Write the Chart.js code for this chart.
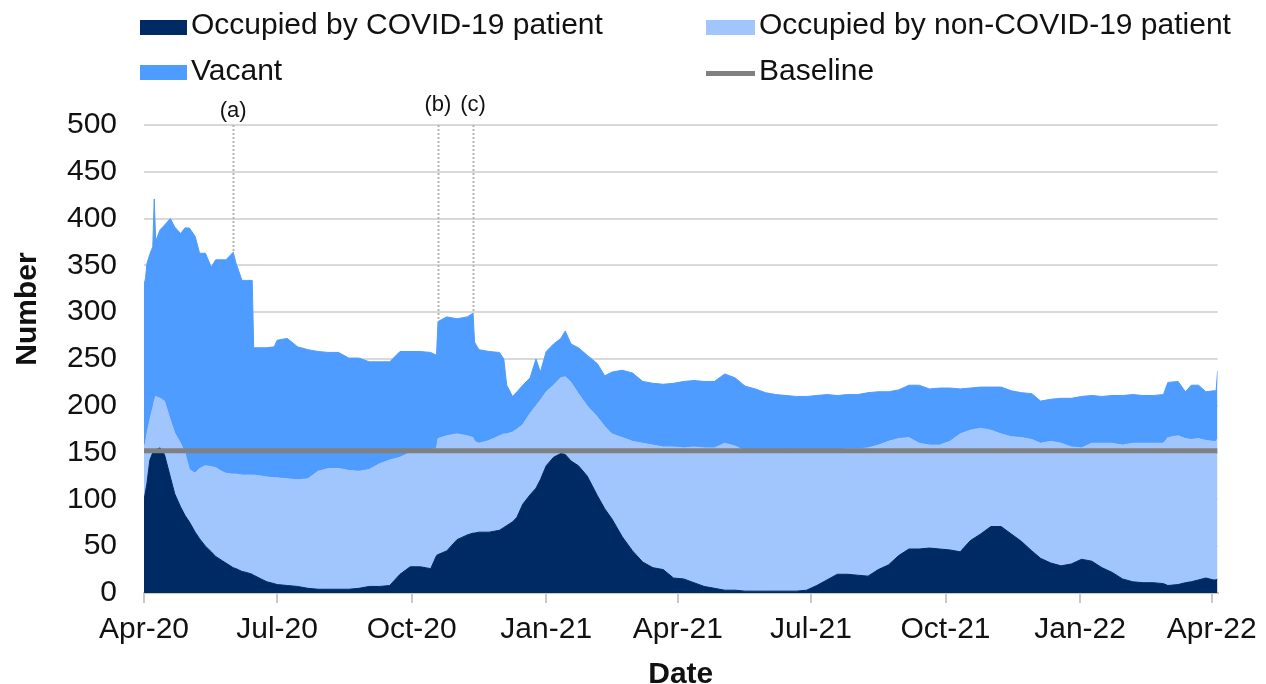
<!DOCTYPE html>
<html>
<head>
<meta charset="utf-8">
<script src="https://cdn.jsdelivr.net/npm/chart.js@4.4.1/dist/chart.umd.min.js"></script>
<style>
  html, body { margin: 0; padding: 0; background: #fff; }
  #chart { display: block; }
</style>
</head>
<body>
<canvas id="chart" width="1266" height="684"></canvas>
<script>
// Days since 1 April 2020
const days = [
  0, 1, 2, 4, 6, 7, 8, 11, 14, 18,
  21, 25, 28, 31, 35, 38, 42, 46, 49, 53,
  56, 61, 63, 67, 70, 74, 75, 80, 84, 89,
  91, 98, 105, 112, 119, 126, 133, 140, 147, 154,
  161, 168, 175, 182, 189, 196, 200, 201, 207, 214,
  221, 225, 226, 229, 236, 243, 246, 248, 252, 255,
  259, 264, 268, 271, 275, 280, 285, 288, 292, 297,
  303, 310, 315, 320, 327, 334, 341, 348, 355, 362,
  369, 376, 383, 390, 397, 404, 411, 418, 425, 432,
  439, 446, 453, 460, 467, 474, 481, 488, 495, 502,
  509, 516, 523, 530, 537, 544, 551, 558, 565, 572,
  579, 586, 593, 600, 607, 613, 620, 627, 634, 641,
  648, 655, 662, 669, 676, 683, 690, 697, 700, 707,
  712, 716, 721, 726, 731, 733, 734
];

const covidBeds = [
  99, 108, 117, 142, 150, 152, 153, 155, 148, 124,
  106, 92, 83, 76, 65, 58, 50, 44, 39, 35,
  32, 27, 26, 23, 22, 20, 19, 15, 12, 10,
  9, 8, 7, 5, 4, 4, 4, 4, 5, 7,
  7, 8, 20, 28, 28, 26, 40, 41, 45, 57,
  62, 64, 64, 65, 65, 67, 70, 72, 76, 81,
  95, 105, 112, 121, 136, 145, 149, 148, 141, 136,
  125, 104, 90, 79, 60, 45, 33, 27, 25, 16,
  15, 11, 7, 5, 3, 3, 2, 2, 2, 2,
  2, 2, 3, 8, 14, 20, 20, 19, 18, 25,
  30, 40, 47, 47, 48, 47, 46, 44, 56, 63,
  71, 71, 63, 55, 45, 37, 32, 29, 31, 36,
  34, 27, 22, 15, 12, 11, 11, 10, 8, 9,
  11, 12, 14, 16, 14, 14, 15
];

const nonCovidBeds = [
  57, 52, 53, 43, 48, 53, 57, 53, 57, 61,
  65, 68, 67, 56, 63, 75, 86, 91, 95, 95,
  96, 100, 101, 103, 104, 106, 107, 110, 112, 113,
  114, 114, 114, 117, 126, 129, 129, 127, 125, 125,
  131, 134, 125, 122, 124, 127, 115, 124, 123, 113,
  106, 102, 98, 95, 98, 101, 100, 98, 96, 94,
  85, 87, 88, 85, 79, 77, 81, 83, 84, 77,
  75, 84, 88, 91, 106, 117, 127, 131, 131, 140,
  140, 145, 148, 150, 157, 154, 150, 148, 148, 148,
  147, 147, 148, 144, 139, 133, 134, 135, 137, 133,
  132, 125, 119, 113, 110, 111, 116, 126, 118, 113,
  103, 99, 104, 111, 119, 123, 130, 131, 125, 119,
  126, 133, 138, 143, 148, 149, 149, 150, 158, 159,
  154, 152, 151, 147, 148, 148, 150
];

const vacantBeds = [
  173, 176, 182, 177, 172, 216, 166, 180, 188, 215,
  220, 224, 240, 258, 253, 230, 227, 213, 222, 226,
  228, 237, 225, 208, 208, 208, 136, 137, 138, 140,
  147, 150, 142, 138, 128, 124, 124, 120, 121, 115,
  109, 105, 113, 108, 106, 104, 99, 125, 127, 123,
  127, 133, 106, 100, 95, 89, 80, 52, 38, 40,
  42, 38, 50, 30, 43, 44, 42, 49, 41, 49,
  54, 57, 54, 66, 72, 73, 66, 66, 67, 68,
  71, 71, 71, 71, 74, 73, 69, 68, 64, 62,
  62, 61, 59, 59, 59, 58, 58, 58, 59, 57,
  53, 52, 56, 62, 60, 61, 57, 48, 45, 44,
  46, 50, 49, 48, 49, 45, 45, 48, 52, 55,
  51, 50, 51, 53, 52, 51, 51, 52, 59, 58,
  50, 58, 57, 52, 54, 54, 72
];

const baselineValue = 152;

const seriesNames = [
  'Occupied by COVID-19 patient',
  'Occupied by non-COVID-19 patient',
  'Vacant',
  'Baseline'
];

const tickDays = [0, 91, 183, 275, 365, 456, 548, 640, 730];
const tickLabels = ['Apr-20', 'Jul-20', 'Oct-20', 'Jan-21', 'Apr-21', 'Jul-21', 'Oct-21', 'Jan-22', 'Apr-22'];

const noteDays = [61, 201, 225];
const noteLabels = ['(a)', '(b)', '(c)'];

const FONT = '"Liberation Sans", Arial, sans-serif';
const NAVY = '#002a64';
const LIGHT = '#a0c6fd';
const MID = '#4e9cff';
const GREY = '#808080';

function points(values) {
    return days.map((d, i) => ({ x: d, y: values[i] }));
}

// Legend, axis titles and the (a)(b)(c) notes
const overlayPlugin = {
    id: 'overlay',
    afterDraw(chart) {
        const ctx = chart.ctx;
        const xs = chart.scales.x;
        const ys = chart.scales.y;
        ctx.save();

        // notes
        ctx.strokeStyle = '#b4b4b4';
        ctx.lineWidth = 2;
        ctx.setLineDash([2, 2]);
        noteDays.forEach((d, k) => {
            const i = days.indexOf(d);
            const total = covidBeds[i] + nonCovidBeds[i] + vacantBeds[i];
            const x = Math.round(xs.getPixelForValue(d)) + 0.5;
            ctx.beginPath();
            ctx.moveTo(x, ys.getPixelForValue(500));
            ctx.lineTo(x, ys.getPixelForValue(total));
            ctx.stroke();
        });
        ctx.setLineDash([]);
        ctx.fillStyle = '#111';
        ctx.font = '22px ' + FONT;
        ctx.textAlign = 'center';
        ctx.textBaseline = 'middle';
        noteDays.forEach((d, k) => {
            ctx.fillText(noteLabels[k], xs.getPixelForValue(d), k === 0 ? 111 : 105);
        });

        // legend
        ctx.textAlign = 'left';
        ctx.textBaseline = 'alphabetic';
        ctx.font = '30px ' + FONT;
        ctx.fillStyle = NAVY;  ctx.fillRect(140, 20, 47, 15);
        ctx.fillStyle = LIGHT; ctx.fillRect(706, 20, 49, 15);
        ctx.fillStyle = MID;   ctx.fillRect(140, 65, 47, 15);
        ctx.fillStyle = GREY;  ctx.fillRect(706, 71, 49, 5);
        ctx.fillStyle = '#111';
        ctx.fillText(seriesNames[0], 191, 34);
        ctx.fillText(seriesNames[1], 759, 34);
        ctx.fillText(seriesNames[2], 191, 80);
        ctx.fillText(seriesNames[3], 759, 80);

        // axis titles
        ctx.font = 'bold 30px ' + FONT;
        ctx.textAlign = 'center';
        ctx.fillText('Date', (chart.chartArea.left + chart.chartArea.right) / 2, 683);
        ctx.translate(36, 309);
        ctx.rotate(-Math.PI / 2);
        ctx.fillText('Number', 0, 0);
        ctx.restore();
    }
};

const common = { pointRadius: 0, borderWidth: 1, tension: 0, stack: 'beds' };

new Chart(document.getElementById('chart'), {
    type: 'line',
    data: {
        datasets: [
            { ...common, label: seriesNames[0], data: points(covidBeds), backgroundColor: NAVY, borderColor: NAVY, fill: 'origin' },
            { ...common, label: seriesNames[1], data: points(nonCovidBeds), backgroundColor: LIGHT, borderColor: LIGHT, fill: '-1' },
            { ...common, label: seriesNames[2], data: points(vacantBeds), backgroundColor: MID, borderColor: MID, fill: '-1' },
            {
                label: seriesNames[3],
                data: [{ x: 0, y: baselineValue }, { x: 734, y: baselineValue }],
                borderColor: GREY, borderWidth: 5, pointRadius: 0, fill: false,
                stack: 'base', order: -1
            }
        ]
    },
    options: {
        responsive: false,
        animation: false,
        events: [],
        layout: { padding: { top: 125, right: 48, left: 0, bottom: 0 } },
        plugins: {
            legend: { display: false },
            tooltip: { enabled: false }
        },
        scales: {
            x: {
                type: 'linear',
                min: 0,
                max: 734,
                afterBuildTicks(scale) {
                    scale.ticks = tickDays.map(v => ({ value: v }));
                },
                afterFit(scale) { scale.height = 91; },
                ticks: {
                    autoSkip: false,
                    maxRotation: 0,
                    padding: 9,
                    color: '#111',
                    font: { family: FONT, size: 30 },
                    callback: (value, index) => tickLabels[index]
                },
                grid: { drawOnChartArea: false, drawTicks: true, tickLength: 10, color: '#c8c8c8', lineWidth: 2 },
                border: { display: true, color: '#c8c8c8', width: 2 }
            },
            y: {
                stacked: true,
                min: 0,
                max: 500,
                afterFit(scale) { scale.width = 144; },
                ticks: {
                    stepSize: 50,
                    padding: 27,
                    color: '#111',
                    font: { family: FONT, size: 30 }
                },
                grid: { color: '#d9d9d9', lineWidth: 2, drawTicks: false },
                border: { display: false }
            }
        }
    },
    plugins: [overlayPlugin]
});
</script>
</body>
</html>
